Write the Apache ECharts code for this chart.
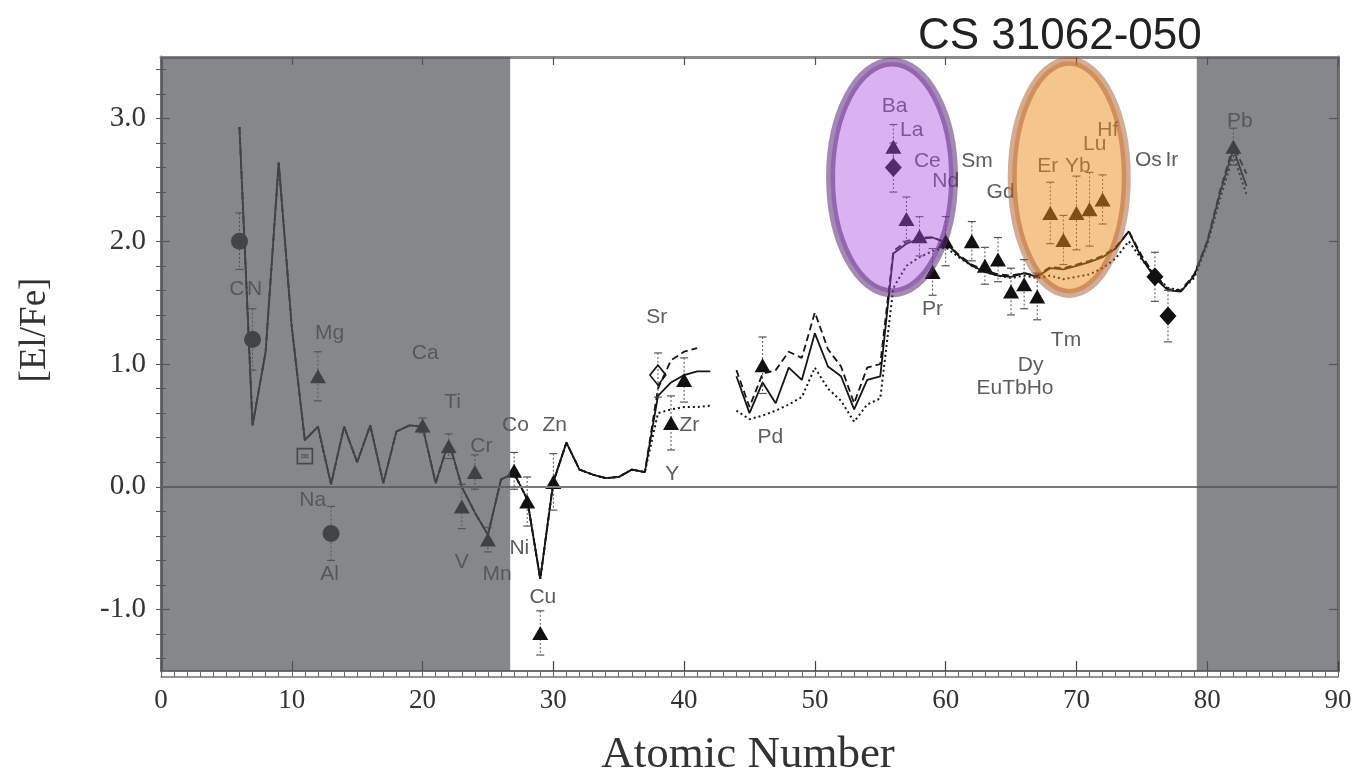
<!DOCTYPE html>
<html>
<head>
<meta charset="utf-8">
<title>CS 31062-050 abundance pattern</title>
<script src="https://cdn.jsdelivr.net/npm/echarts@6/dist/echarts.min.js"></script>
<style>
html, body { margin: 0; padding: 0; background: #ffffff; }
#chart { width: 1356px; height: 778px; }
</style>
</head>
<body>
<div id="chart"></div>
<script>
// Measured abundances: [atomic number, [El/Fe], error]
const circles = [[6, 2.00, 0.23], [7, 1.20, 0.25], [13, -0.38, 0.22]];
const openSquares = [[11, 0.25, 0.01]];
const triangles = [
  [12, 0.90, 0.20], [20, 0.50, 0.06], [22, 0.33, 0.10], [23, -0.16, 0.18], [24, 0.12, 0.14],
  [25, -0.43, 0.10], [27, 0.13, 0.15], [28, -0.12, 0.20], [29, -1.19, 0.18], [30, 0.04, 0.23],
  [39, 0.52, 0.22], [40, 0.87, 0.18], [46, 0.99, 0.23],
  [56, 2.77, 0.18], [57, 2.18, 0.18], [58, 2.04, 0.16], [59, 1.75, 0.19], [60, 2.00, 0.20],
  [62, 2.00, 0.16], [63, 1.80, 0.15], [64, 1.85, 0.18], [65, 1.59, 0.19], [66, 1.65, 0.20],
  [67, 1.55, 0.19], [68, 2.23, 0.25], [69, 2.01, 0.20], [70, 2.23, 0.30], [71, 2.26, 0.30],
  [72, 2.34, 0.20], [82, 2.77, 0.15]
];
const diamonds = [[56, 2.60, 0.20], [76, 1.71, 0.20], [77, 1.39, 0.21]];
const openDiamonds = [[38, 0.91, 0.18]];

// Model predictions: one curve up to Z = 37, then three variants
const modelCommon = [
  [6, 2.93], [7, 0.50], [8, 1.10], [9, 2.64], [10, 1.30], [11, 0.38], [12, 0.49], [13, 0.02],
  [14, 0.49], [15, 0.20], [16, 0.50], [17, 0.03], [18, 0.45], [19, 0.50], [20, 0.49], [21, 0.03],
  [22, 0.37], [23, 0.00], [24, -0.21], [25, -0.39], [26, 0.06], [27, 0.11], [28, -0.10],
  [29, -0.75], [30, 0.04], [31, 0.36], [32, 0.14], [33, 0.10], [34, 0.07], [35, 0.08],
  [36, 0.14], [37, 0.12]
];
const modelSolid = [
  [38, 0.74], [39, 0.85], [40, 0.91], [41, 0.94], [42, 0.94], [43, null],
  [44, 0.90], [45, 0.60], [46, 0.85], [47, 0.68], [48, 0.97], [49, 0.87], [50, 1.25],
  [51, 0.98], [52, 0.90], [53, 0.63], [54, 0.87], [55, 0.90], [56, 1.90], [57, 1.98],
  [58, 2.02], [59, 2.03], [60, 1.99], [61, 1.88], [62, 1.80], [63, 1.75], [64, 1.72],
  [65, 1.71], [66, 1.74], [67, 1.71], [68, 1.78], [69, 1.77], [70, 1.80], [71, 1.83],
  [72, 1.87], [73, 1.94], [74, 2.08], [75, 1.86], [76, 1.70], [77, 1.60], [78, 1.59],
  [79, 1.72], [80, 1.99], [81, 2.40], [82, 2.75], [83, 2.45]
];
const modelDashed = [
  [38, 0.80], [39, 1.03], [40, 1.10], [41, 1.13], [42, null], [43, null],
  [44, 0.95], [45, 0.65], [46, 0.92], [47, 0.95], [48, 1.10], [49, 1.05], [50, 1.42],
  [51, 1.12], [52, 0.98], [53, 0.68], [54, 0.97], [55, 1.00], [56, 1.92], [57, 2.00],
  [58, 2.03], [59, 2.03], [60, 1.99], [61, 1.89], [62, 1.81], [63, 1.76], [64, 1.73],
  [65, 1.72], [66, 1.74], [67, 1.72], [68, 1.79], [69, 1.78], [70, 1.81], [71, 1.84],
  [72, 1.88], [73, 1.95], [74, 2.08], [75, 1.88], [76, 1.72], [77, 1.61], [78, 1.60],
  [79, 1.73], [80, 2.00], [81, 2.42], [82, 2.78], [83, 2.55]
];
const modelDotted = [
  [38, 0.60], [39, 0.63], [40, 0.65], [41, 0.65], [42, 0.66], [43, null],
  [44, 0.62], [45, 0.55], [46, 0.58], [47, 0.62], [48, 0.67], [49, 0.73], [50, 0.97],
  [51, 0.80], [52, 0.70], [53, 0.53], [54, 0.67], [55, 0.72], [56, 1.62], [57, 1.80],
  [58, 1.87], [59, 1.92], [60, 1.95], [61, 1.87], [62, 1.80], [63, 1.75], [64, 1.72],
  [65, 1.70], [66, 1.72], [67, 1.70], [68, 1.72], [69, 1.69], [70, 1.71], [71, 1.73],
  [72, 1.78], [73, 1.86], [74, 2.00], [75, 1.85], [76, 1.72], [77, 1.62], [78, 1.60],
  [79, 1.70], [80, 1.97], [81, 2.35], [82, 2.70], [83, 2.38]
];

// Element names with their anchor in data units
const elementLabels = [
  ['C', 5.8, 1.61], ['N', 7.15, 1.61], ['Mg', 12.9, 1.25], ['Na', 11.6, -0.11], ['Al', 12.9, -0.71],
  ['Ca', 20.2, 1.09], ['Ti', 22.3, 0.69], ['Cr', 24.5, 0.33], ['V', 23.0, -0.61], ['Mn', 25.7, -0.71],
  ['Co', 27.1, 0.50], ['Ni', 27.4, -0.50], ['Cu', 29.2, -0.90], ['Zn', 30.1, 0.50],
  ['Sr', 37.9, 1.38], ['Zr', 40.4, 0.50], ['Y', 39.1, 0.10], ['Pd', 46.6, 0.40],
  ['Ba', 56.1, 3.10], ['La', 57.4, 2.90], ['Ce', 58.6, 2.65], ['Nd', 60.0, 2.49], ['Pr', 59.0, 1.45],
  ['Sm', 62.4, 2.65], ['Gd', 64.2, 2.40], ['EuTbHo', 65.3, 0.80], ['Dy', 66.5, 0.99], ['Tm', 69.2, 1.19],
  ['Er', 67.8, 2.61], ['Yb', 70.1, 2.61], ['Lu', 71.4, 2.79], ['Hf', 72.4, 2.90],
  ['Os', 75.5, 2.66], ['Ir', 77.3, 2.66], ['Pb', 82.5, 2.98]
];

// Shaded atomic-number ranges and the two highlighted groups [cx, cy, rx, ry]
const shadedRanges = [[0, 26.7], [79.2, 90]];
const highlightBa = [[55.9, 2.52, 4.7, 0.94]];
const highlightYb = [[69.45, 2.52, 4.36, 0.945]];

// Axis ticks and labels
const xTicks = [0, 10, 20, 30, 40, 50, 60, 70, 80, 90];
const yLabels = [-1, 0, 1, 2, 3];
const yMinorTicks = [-1.4, -1.2, -1.0, -0.8, -0.6, -0.4, -0.2, 0.0, 0.2, 0.4, 0.6, 0.8, 1.0, 1.2, 1.4,
  1.6, 1.8, 2.0, 2.2, 2.4, 2.6, 2.8, 3.0, 3.2, 3.4];
const yMin = -1.5, yMax = 3.5;

const SERIF = 'Liberation Serif';
const SANS = 'Liberation Sans';
const AXIS_COLOR = '#707070';

function renderErrorBar(params, api) {
  const x = api.value(0), y = api.value(1), e = api.value(2);
  const top = api.coord([x, y + e]);
  const bot = api.coord([x, y - e]);
  const w = 4;
  const s = { stroke: '#555', lineWidth: 1.2 };
  return {
    type: 'group',
    children: [
      { type: 'line', shape: { x1: top[0], y1: top[1], x2: bot[0], y2: bot[1] },
        style: { stroke: '#555', lineWidth: 1, lineDash: [2, 2] } },
      { type: 'line', shape: { x1: top[0] - w, y1: top[1], x2: top[0] + w, y2: top[1] }, style: s },
      { type: 'line', shape: { x1: bot[0] - w, y1: bot[1], x2: bot[0] + w, y2: bot[1] }, style: s }
    ]
  };
}

function renderShade(params, api) {
  const p0 = api.coord([api.value(0), yMax]);
  const p1 = api.coord([api.value(1), yMin]);
  return {
    type: 'rect',
    shape: { x: p0[0], y: p0[1], width: p1[0] - p0[0], height: p1[1] - p0[1] },
    style: { fill: 'rgba(84,86,90,0.71)' }
  };
}

function ellipseRenderer(fill, stroke) {
  return function (params, api) {
    const c = api.coord([api.value(0), api.value(1)]);
    const e = api.coord([api.value(0) + api.value(2), api.value(1) + api.value(3)]);
    return {
      type: 'ellipse',
      shape: { cx: c[0], cy: c[1], rx: Math.abs(e[0] - c[0]), ry: Math.abs(c[1] - e[1]) },
      style: { fill: fill, stroke: stroke, lineWidth: 9 }
    };
  };
}

function markerSeries(data, symbol, size, fill, border) {
  return {
    type: 'scatter',
    data: data.map(d => [d[0], d[1]]),
    symbol: symbol,
    symbolSize: size,
    z: 4,
    silent: true,
    itemStyle: { color: fill, borderColor: border || fill, borderWidth: border ? 1.6 : 0, opacity: 1 }
  };
}

function modelSeries(tail, lineType, width) {
  return {
    type: 'line',
    data: modelCommon.concat(tail),
    showSymbol: false,
    symbol: 'none',
    connectNulls: false,
    z: 2,
    silent: true,
    lineStyle: { color: '#151515', width: width, type: lineType }
  };
}

const chart = echarts.init(document.getElementById('chart'), null, { renderer: 'canvas' });

const option = {
  animation: false,
  backgroundColor: '#ffffff',
  title: {
    text: 'CS 31062-050',
    left: 913,
    top: 10,
    textStyle: { fontFamily: SANS, fontSize: 44, fontWeight: 'normal', color: '#222' }
  },
  grid: { left: 161, right: 18, top: 57, bottom: 107 },
  xAxis: [
    {
      type: 'value', position: 'bottom', min: 0, max: 90, interval: 10,
      axisLine: { show: true, onZero: false, lineStyle: { color: AXIS_COLOR, width: 2 } },
      axisTick: { show: true, inside: true, length: 10, lineStyle: { color: '#444', width: 1.2 } },
      axisLabel: { show: true, margin: 16, fontFamily: SERIF, fontSize: 27, color: '#333',
        customValues: xTicks },
      splitLine: { show: false }
    },
    {
      type: 'value', position: 'bottom', offset: 6, min: 0, max: 90, interval: 1,
      axisLine: { show: true, onZero: false, lineStyle: { color: AXIS_COLOR, width: 1.5 } },
      axisTick: { show: true, inside: true, length: 6, lineStyle: { color: '#666', width: 1 } },
      axisLabel: { show: false },
      splitLine: { show: false }
    },
    {
      type: 'value', position: 'top', min: 0, max: 90, interval: 10,
      axisLine: { show: true, onZero: false, lineStyle: { color: '#8a8a8a', width: 3 } },
      axisTick: { show: true, inside: true, length: 8, lineStyle: { color: '#555', width: 1.2 } },
      axisLabel: { show: false },
      splitLine: { show: false }
    }
  ],
  yAxis: [
    {
      type: 'value', position: 'left', min: yMin, max: yMax,
      axisLine: { show: true, onZero: false, lineStyle: { color: AXIS_COLOR, width: 3 } },
      axisTick: { show: true, inside: true, length: 9, customValues: yLabels,
        lineStyle: { color: '#555', width: 1.2 } },
      axisLabel: { show: true, margin: 15, fontFamily: SERIF, fontSize: 29, color: '#333',
        customValues: yLabels, formatter: v => v.toFixed(1) },
      splitLine: { show: false }
    },
    {
      type: 'value', position: 'left', min: yMin, max: yMax,
      axisLine: { show: false },
      axisTick: { show: true, inside: true, length: 5, customValues: yMinorTicks,
        lineStyle: { color: '#555', width: 1 } },
      axisLabel: { show: false },
      splitLine: { show: false }
    },
    {
      type: 'value', position: 'right', min: yMin, max: yMax,
      axisLine: { show: true, onZero: false, lineStyle: { color: AXIS_COLOR, width: 3 } },
      axisTick: { show: true, inside: true, length: 9, customValues: yLabels,
        lineStyle: { color: '#555', width: 1.2 } },
      axisLabel: { show: false },
      splitLine: { show: false }
    },
    {
      type: 'value', position: 'right', min: yMin, max: yMax,
      axisLine: { show: false },
      axisTick: { show: true, inside: true, length: 5, customValues: yMinorTicks,
        lineStyle: { color: '#555', width: 1 } },
      axisLabel: { show: false },
      splitLine: { show: false }
    }
  ],
  graphic: [
    {
      type: 'text', x: 748, y: 755, silent: true,
      style: { text: 'Atomic Number', fontFamily: SERIF, fontSize: 45, fill: '#333',
        textAlign: 'center', textVerticalAlign: 'middle' }
    },
    {
      type: 'text', x: 35, y: 330, rotation: Math.PI / 2, silent: true,
      style: { text: '[El/Fe]', fontFamily: SERIF, fontSize: 37, fill: '#333',
        textAlign: 'center', textVerticalAlign: 'middle' }
    }
  ],
  series: [
    modelSeries(modelSolid, 'solid', 1.8),
    modelSeries(modelDashed, [7, 4], 1.8),
    modelSeries(modelDotted, [2, 3], 2),
    {
      type: 'custom',
      renderItem: renderErrorBar,
      data: circles.concat(openSquares, triangles, diamonds, openDiamonds),
      z: 3,
      silent: true
    },
    markerSeries(circles, 'circle', 17, '#1a1a1a'),
    markerSeries(triangles, 'triangle', [16, 14], '#111'),
    markerSeries(diamonds, 'diamond', [17, 19], '#111'),
    markerSeries(openSquares, 'rect', 15, 'rgba(255,255,255,0)', '#222'),
    markerSeries(openDiamonds, 'diamond', [16, 20], 'rgba(255,255,255,0)', '#111'),
    {
      type: 'scatter',
      data: elementLabels.map(d => ({ name: d[0], value: [d[1], d[2]] })),
      symbol: 'circle',
      symbolSize: 1,
      itemStyle: { color: 'rgba(0,0,0,0)' },
      z: 5,
      silent: true,
      label: { show: true, position: 'inside', formatter: '{b}', color: '#333',
        fontFamily: SANS, fontSize: 21 },
      markLine: {
        silent: true, symbol: 'none', label: { show: false },
        lineStyle: { color: '#7a7a7a', width: 2, type: 'solid' },
        data: [{ yAxis: 0 }]
      }
    },
    {
      type: 'custom',
      renderItem: renderShade,
      data: shadedRanges,
      z: 8,
      silent: true
    },
    {
      type: 'custom',
      renderItem: ellipseRenderer('rgba(170,80,226,0.44)', 'rgba(90,40,120,0.55)'),
      data: highlightBa,
      z: 9,
      silent: true
    },
    {
      type: 'custom',
      renderItem: ellipseRenderer('rgba(238,140,30,0.5)', 'rgba(170,90,40,0.5)'),
      data: highlightYb,
      z: 9,
      silent: true
    }
  ]
};

chart.setOption(option);
</script>
</body>
</html>
